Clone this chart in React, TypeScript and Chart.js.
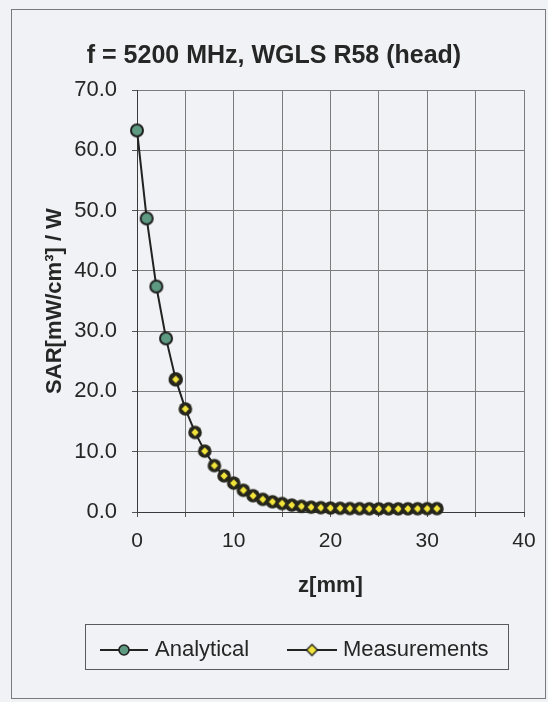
import React, { useEffect, useRef } from 'react';
import { Chart, registerables } from 'chart.js';

Chart.register(...registerables);

// ---- data ----
const chartTitle = 'f = 5200 MHz, WGLS R58 (head)';
const xAxisTitle = 'z[mm]';
const yAxisTitle = 'SAR[mW/cm³] / W';
const seriesNames = ['Analytical', 'Measurements'];

const analyticalZ = [0, 1, 2, 3, 4];
const analyticalSAR = [63.3, 48.7, 37.4, 28.8, 22.0];

const measZ = [4, 5, 6, 7, 8, 9, 10, 11, 12, 13, 14, 15, 16, 17, 18, 19, 20, 21, 22, 23, 24, 25, 26, 27, 28, 29, 30, 31];
const measSAR = [22.0, 17.1, 13.2, 10.1, 7.7, 6.0, 4.8, 3.6, 2.7, 2.1, 1.7, 1.4, 1.15, 0.95, 0.8, 0.72, 0.66, 0.62, 0.58, 0.55, 0.53, 0.52, 0.52, 0.52, 0.53, 0.54, 0.55, 0.57];

const xTickLabels = ['0', '10', '20', '30', '40'];
const yTickLabels = ['0.0', '10.0', '20.0', '30.0', '40.0', '50.0', '60.0', '70.0'];

const FONT = '"Liberation Sans", Arial, Helvetica, sans-serif';
const TEXT = '#262626';
const BG = '#f1f2f5';

function circleMarker(fill: string, stroke: string, r: number, lw: number) {
  const c = document.createElement('canvas');
  const s = Math.ceil(2 * r + lw + 2);
  c.width = s;
  c.height = s;
  const ctx = c.getContext('2d')!;
  ctx.beginPath();
  ctx.arc(s / 2, s / 2, r, 0, Math.PI * 2);
  ctx.fillStyle = fill;
  ctx.fill();
  ctx.lineWidth = lw;
  ctx.strokeStyle = stroke;
  ctx.stroke();
  return c;
}

function ringDiamondMarker(ring: string, fill: string, r: number, d: number) {
  const c = document.createElement('canvas');
  const s = Math.ceil(2 * r + 2);
  c.width = s;
  c.height = s;
  const ctx = c.getContext('2d')!;
  const m = s / 2;
  ctx.beginPath();
  ctx.arc(m, m, r, 0, Math.PI * 2);
  ctx.fillStyle = ring;
  ctx.fill();
  ctx.beginPath();
  ctx.moveTo(m, m - d);
  ctx.lineTo(m + d, m);
  ctx.lineTo(m, m + d);
  ctx.lineTo(m - d, m);
  ctx.closePath();
  ctx.fillStyle = fill;
  ctx.fill();
  return c;
}

function diamondMarker(fill: string, stroke: string, d: number, lw: number) {
  const c = document.createElement('canvas');
  const s = Math.ceil(2 * d + lw + 2);
  c.width = s;
  c.height = s;
  const ctx = c.getContext('2d')!;
  const m = s / 2;
  ctx.beginPath();
  ctx.moveTo(m, m - d);
  ctx.lineTo(m + d, m);
  ctx.lineTo(m, m + d);
  ctx.lineTo(m - d, m);
  ctx.closePath();
  ctx.fillStyle = fill;
  ctx.fill();
  ctx.lineWidth = lw;
  ctx.strokeStyle = stroke;
  ctx.stroke();
  return c;
}

export default function App() {
  const ref = useRef<HTMLCanvasElement | null>(null);

  useEffect(() => {
    if (!ref.current) return;
    const greenPt = circleMarker('#5e9a82', '#1f1f1f', 6, 2);
    const yellowPt = ringDiamondMarker('#26261c', '#f3e43c', 6.8, 3.7);
    const legendGreen = circleMarker('#5e9a82', '#1f1f1f', 5, 1.6);
    const legendYellow = diamondMarker('#f3e43c', '#1f1f1f', 5.5, 1.4);

    const bgPlugin = {
      id: 'bgFrame',
      beforeDraw(chart: any) {
        const { ctx, width, height } = chart;
        ctx.save();
        ctx.fillStyle = BG;
        ctx.fillRect(0, 0, width, height);
        ctx.strokeStyle = '#7a7a7a';
        ctx.lineWidth = 1;
        ctx.strokeRect(11.5, 9.5, 534, 689);
        ctx.restore();
      },
    };

    const legendPlugin = {
      id: 'customLegend',
      afterDraw(chart: any) {
        const { ctx } = chart;
        ctx.save();
        ctx.strokeStyle = '#5a5a5a';
        ctx.lineWidth = 1;
        ctx.strokeRect(85.5, 624.5, 423, 45);
        const y = 650;
        const items = [
          { label: seriesNames[0], x1: 100, x2: 148, mx: 124, mk: legendGreen, tx: 155 },
          { label: seriesNames[1], x1: 287, x2: 337, mx: 312, mk: legendYellow, tx: 343 },
        ];
        items.forEach((it) => {
          ctx.beginPath();
          ctx.moveTo(it.x1, y);
          ctx.lineTo(it.x2, y);
          ctx.strokeStyle = '#222';
          ctx.lineWidth = 2;
          ctx.stroke();
          ctx.drawImage(it.mk, it.mx - it.mk.width / 2, y - it.mk.height / 2);
          ctx.fillStyle = TEXT;
          ctx.font = `22px ${FONT}`;
          ctx.textAlign = 'left';
          ctx.textBaseline = 'middle';
          ctx.fillText(it.label, it.tx, y);
        });
        ctx.restore();
      },
    };

    const chart = new Chart(ref.current, {
      type: 'line',
      data: {
        datasets: [
          {
            label: seriesNames[0],
            data: analyticalZ.map((z, i) => ({ x: z, y: analyticalSAR[i] })),
            borderColor: '#222222',
            borderWidth: 2,
            pointStyle: greenPt as any,
            pointRadius: 6,
            tension: 0,
            order: 2,
            clip: false,
          },
          {
            label: seriesNames[1],
            data: measZ.map((z, i) => ({ x: z, y: measSAR[i] })),
            borderColor: '#222222',
            borderWidth: 2,
            pointStyle: yellowPt as any,
            pointRadius: 6,
            tension: 0,
            order: 1,
            clip: false,
          },
        ],
      },
      options: {
        responsive: false,
        animation: false,
        layout: { padding: 0 },
        plugins: {
          legend: { display: false },
          tooltip: { enabled: false },
          title: {
            display: true,
            text: chartTitle,
            color: TEXT,
            font: { family: FONT, size: 25, weight: 'bold' },
            padding: { top: 41, bottom: 19 },
          },
        },
        scales: {
          x: {
            type: 'linear',
            min: 0,
            max: 40,
            ticks: {
              stepSize: 5,
              autoSkip: false,
              maxRotation: 0,
              padding: 12,
              color: TEXT,
              font: { family: FONT, size: 21 },
              callback: (v: any) => (xTickLabels.includes(String(v)) ? String(v) : ''),
            },
            grid: { color: '#7c7c7c', lineWidth: 1, tickLength: 5, tickColor: '#555' },
            border: { color: '#3a3a3a', width: 1 },
            title: {
              display: true,
              text: xAxisTitle,
              color: TEXT,
              font: { family: FONT, size: 22, weight: 'bold' },
              padding: { top: 0, bottom: 103 },
            },
            afterFit: (s: any) => {
              s.height = 190;
            },
          },
          y: {
            type: 'linear',
            min: 0,
            max: 70,
            ticks: {
              stepSize: 10,
              padding: 15,
              color: TEXT,
              font: { family: FONT, size: 22 },
              callback: (v: any) => {
                const t = Number(v).toFixed(1);
                return yTickLabels.includes(t) ? t : '';
              },
            },
            grid: { color: '#7c7c7c', lineWidth: 1, tickLength: 5, tickColor: '#555' },
            border: { color: '#3a3a3a', width: 1 },
            title: {
              display: true,
              text: yAxisTitle,
              color: TEXT,
              font: { family: FONT, size: 22, weight: 'bold' },
              padding: { top: 42, bottom: 0 },
            },
            afterFit: (s: any) => {
              s.width = 137;
            },
          },
          yRight: {
            type: 'linear',
            position: 'right',
            display: true,
            grid: { display: false, drawTicks: false },
            ticks: { display: false },
            border: { display: false },
            afterFit: (s: any) => {
              s.width = 24;
            },
          },
        },
      } as any,
      plugins: [bgPlugin, legendPlugin],
    });
    return () => chart.destroy();
  }, []);

  return (
    <div style={{ position: 'fixed', left: 0, top: 0, width: 548, height: 702, background: BG }}>
      <canvas ref={ref} width={548} height={702} />
    </div>
  );
}
